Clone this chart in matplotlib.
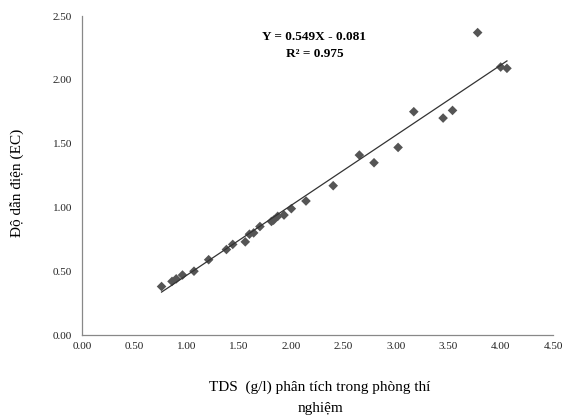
import matplotlib
matplotlib.use("Agg")
import matplotlib.pyplot as plt
import numpy as np

plt.rcParams['font.family'] = ['Liberation Serif', 'DejaVu Serif']

tds = [0.76, 0.86, 0.90, 0.96, 1.07, 1.21, 1.38, 1.44, 1.56, 1.60, 1.64, 1.70,
       1.81, 1.83, 1.87, 1.93, 2.00, 2.14, 2.40, 2.65, 2.79, 3.02, 3.17, 3.45,
       3.54, 3.78, 4.00, 4.06]
ec = [0.38, 0.42, 0.44, 0.47, 0.50, 0.59, 0.67, 0.71, 0.73, 0.79, 0.80, 0.85,
      0.89, 0.90, 0.93, 0.94, 0.99, 1.05, 1.17, 1.41, 1.35, 1.47, 1.75, 1.70,
      1.76, 2.37, 2.10, 2.09]
slope = 0.549
intercept = -0.081
r2 = 0.975
xticks = [0.0, 0.5, 1.0, 1.5, 2.0, 2.5, 3.0, 3.5, 4.0, 4.5]
yticks = [0.0, 0.5, 1.0, 1.5, 2.0, 2.5]

fig = plt.figure(figsize=(5.72, 4.15), dpi=100)
ax = fig.add_axes([82/572, 1-335/415, (553-82)/572, (335-16)/415])

xs = np.array([min(tds), max(tds)])
ax.plot(xs, slope*xs + intercept, color='#333333', lw=0.9, zorder=3)
ax.scatter(tds, ec, marker='D', s=24, color='#555555', edgecolors='none', zorder=2)

ax.set_xlim(0, 4.5)
ax.set_ylim(0, 2.5)
ax.set_xticks(xticks)
ax.set_yticks(yticks)
ax.set_xticklabels([f"{v:.2f}" for v in xticks])
ax.set_yticklabels([f"{v:.2f}" for v in yticks])
ax.tick_params(length=0, labelsize=8, colors='#222222')
ax.tick_params(axis='x', pad=5)
ax.tick_params(axis='y', pad=7)
for s in ['top', 'right']:
    ax.spines[s].set_visible(False)
for s in ['left', 'bottom']:
    ax.spines[s].set_color('#888888')
    ax.spines[s].set_linewidth(0.9)

fig.text(314/572, 1-37/415, f"Y = {slope:.3f}X - {abs(intercept):.3f}",
         ha='center', va='center', fontsize=9.5, fontweight='bold')
fig.text(315/572, 1-54/415, f"R² = {r2:.3f}",
         ha='center', va='center', fontsize=9.5, fontweight='bold')

fig.text(320/572, 1-387/415, "TDS  (g/l) phân tích trong phòng thí",
         ha='center', va='center', fontsize=11)
fig.text(320/572, 1-408/415, "nghiệm",
         ha='center', va='center', fontsize=11)
fig.text(18/572, 1-183/415, "Độ dẫn điện (EC)", rotation=90,
         ha='center', va='center', fontsize=11)

fig.savefig("out.png", dpi=100)
